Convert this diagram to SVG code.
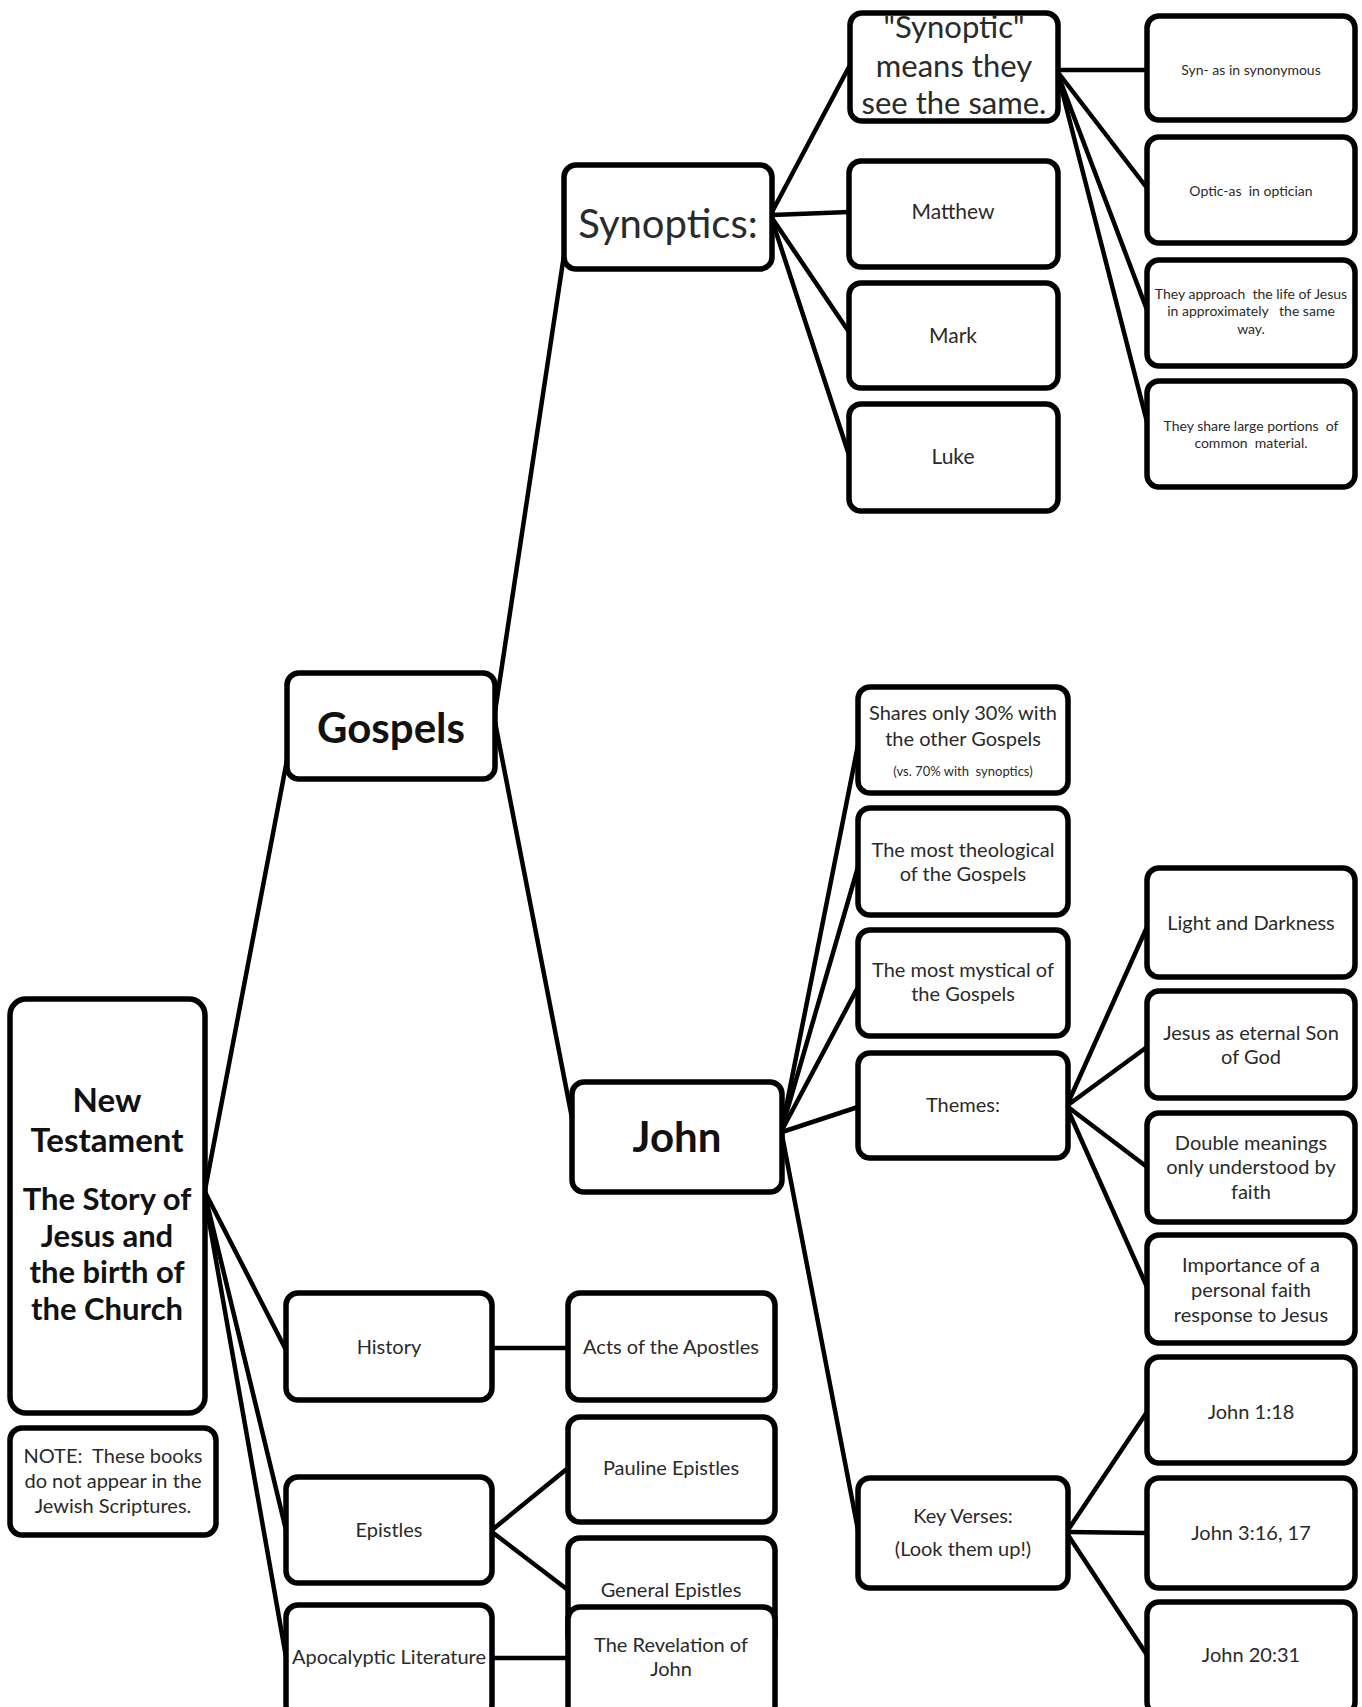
<svg xmlns="http://www.w3.org/2000/svg" width="1362" height="1707" viewBox="0 0 1362 1707">
<style>
.bx{fill:#fff;stroke:#000;stroke-width:5.5}
.ln{stroke:#000;stroke-width:4.5;fill:none;stroke-linecap:round}
text{font-family:Lato,"Open Sans","Liberation Sans",sans-serif;fill:#2a2a2a;text-anchor:middle}
.b{font-weight:bold;fill:#111}
.t21{font-size:21px}
.t20{font-size:20px}
.t13{font-size:14px}
</style>
<rect width="1362" height="1707" fill="#fff"/>
<g id="connectors">
<line class="ln" x1="205" y1="1190" x2="287" y2="760"/>
<line class="ln" x1="205" y1="1192" x2="286" y2="1350"/>
<line class="ln" x1="205" y1="1195" x2="286" y2="1530"/>
<line class="ln" x1="205" y1="1198" x2="286" y2="1657"/>
<line class="ln" x1="495" y1="712" x2="564" y2="255"/>
<line class="ln" x1="495" y1="722" x2="572" y2="1118"/>
<line class="ln" x1="772" y1="212" x2="850" y2="65"/>
<line class="ln" x1="772" y1="215" x2="849" y2="212"/>
<line class="ln" x1="772" y1="218" x2="849" y2="332"/>
<line class="ln" x1="772" y1="220" x2="849" y2="455"/>
<line class="ln" x1="1058" y1="70" x2="1147" y2="70"/>
<line class="ln" x1="1060" y1="75" x2="1147" y2="188"/>
<line class="ln" x1="1060" y1="80" x2="1147" y2="310"/>
<line class="ln" x1="1060" y1="83" x2="1147" y2="422"/>
<line class="ln" x1="782" y1="1128" x2="858" y2="745"/>
<line class="ln" x1="782" y1="1128" x2="858" y2="867"/>
<line class="ln" x1="782" y1="1130" x2="858" y2="987"/>
<line class="ln" x1="782" y1="1132" x2="858" y2="1107"/>
<line class="ln" x1="782" y1="1135" x2="858" y2="1530"/>
<line class="ln" x1="1068" y1="1103" x2="1147" y2="927"/>
<line class="ln" x1="1068" y1="1105" x2="1147" y2="1047"/>
<line class="ln" x1="1068" y1="1107" x2="1147" y2="1167"/>
<line class="ln" x1="1068" y1="1110" x2="1147" y2="1287"/>
<line class="ln" x1="1068" y1="1530" x2="1147" y2="1412"/>
<line class="ln" x1="1068" y1="1532" x2="1147" y2="1533"/>
<line class="ln" x1="1068" y1="1535" x2="1147" y2="1655"/>
<line class="ln" x1="492" y1="1348" x2="568" y2="1348"/>
<line class="ln" x1="492" y1="1530" x2="568" y2="1468"/>
<line class="ln" x1="492" y1="1532" x2="568" y2="1590"/>
<line class="ln" x1="492" y1="1658" x2="568" y2="1658"/>
</g>
<g id="nt">
<rect class="bx" x="10" y="999" width="195" height="414" rx="16"/>
<text class="b" font-size="31"><tspan x="107" y="1112" font-size="33">New</tspan><tspan x="107" y="1152" font-size="33">Testament</tspan><tspan x="107" y="1210">The Story of</tspan><tspan x="107" y="1247">Jesus and</tspan><tspan x="107" y="1283">the birth of</tspan><tspan x="107" y="1320">the Church</tspan></text>
</g>
<g id="note">
<rect class="bx" x="10" y="1428" width="206" height="107" rx="12"/>
<text class="t20" xml:space="preserve"><tspan x="113" y="1463">NOTE:  These books</tspan><tspan x="113" y="1488">do not appear in the</tspan><tspan x="113" y="1513">Jewish Scriptures.</tspan></text>
</g>
<g id="gospels">
<rect class="bx" x="287" y="673" width="208" height="106" rx="12"/>
<text class="b" x="391" y="743" font-size="42">Gospels</text>
</g>
<g id="history">
<rect class="bx" x="286" y="1293" width="206" height="107" rx="12"/>
<text class="t20" x="389" y="1354">History</text>
</g>
<g id="epistles">
<rect class="bx" x="286" y="1477" width="206" height="106" rx="12"/>
<text class="t20" x="389" y="1537">Epistles</text>
</g>
<g id="apocalyptic">
<rect class="bx" x="286" y="1605" width="206" height="112" rx="12"/>
<text class="t20" x="389" y="1664">Apocalyptic Literature</text>
</g>
<g id="synoptics">
<rect class="bx" x="564" y="165" width="208" height="104" rx="12"/>
<text x="668" y="238" font-size="40">Synoptics:</text>
</g>
<g id="john">
<rect class="bx" x="572" y="1082" width="210" height="110" rx="12"/>
<text class="b" x="677" y="1152" font-size="42">John</text>
</g>
<g id="acts">
<rect class="bx" x="568" y="1293" width="207" height="107" rx="12"/>
<text class="t20" x="671" y="1354">Acts of the Apostles</text>
</g>
<g id="pauline">
<rect class="bx" x="568" y="1417" width="207" height="105" rx="12"/>
<text class="t20" x="671" y="1475">Pauline Epistles</text>
</g>
<g id="general">
<rect class="bx" x="568" y="1538" width="207" height="110" rx="12"/>
<text class="t20" x="671" y="1597">General Epistles</text>
</g>
<g id="revelation">
<rect class="bx" x="568" y="1607" width="207" height="112" rx="12"/>
<text class="t20"><tspan x="671" y="1652">The Revelation of</tspan><tspan x="671" y="1676">John</tspan></text>
</g>
<g id="synoptic-def">
<rect class="bx" x="850" y="13" width="208" height="108" rx="12"/>
<text font-size="31"><tspan x="954" y="38">"Synoptic"</tspan><tspan x="954" y="77">means they</tspan><tspan x="954" y="114">see the same.</tspan></text>
</g>
<g id="matthew">
<rect class="bx" x="849" y="161" width="209" height="106" rx="12"/>
<text class="t21" x="953" y="219">Matthew</text>
</g>
<g id="mark">
<rect class="bx" x="849" y="283" width="209" height="105" rx="12"/>
<text class="t21" x="953" y="343">Mark</text>
</g>
<g id="luke">
<rect class="bx" x="849" y="404" width="209" height="107" rx="12"/>
<text class="t21" x="953" y="464">Luke</text>
</g>
<g id="syn">
<rect class="bx" x="1147" y="16" width="208" height="104" rx="12"/>
<text class="t13" x="1251" y="75">Syn- as in synonymous</text>
</g>
<g id="optic">
<rect class="bx" x="1147" y="137" width="208" height="106" rx="12"/>
<text class="t13" x="1251" y="196" xml:space="preserve">Optic-as  in optician</text>
</g>
<g id="approach">
<rect class="bx" x="1147" y="260" width="208" height="106" rx="12"/>
<text class="t13" xml:space="preserve"><tspan x="1251" y="299">They approach  the life of Jesus</tspan><tspan x="1251" y="316">in approximately   the same</tspan><tspan x="1251" y="334">way.</tspan></text>
</g>
<g id="share">
<rect class="bx" x="1147" y="381" width="208" height="106" rx="12"/>
<text class="t13" xml:space="preserve"><tspan x="1251" y="431">They share large portions  of</tspan><tspan x="1251" y="448">common  material.</tspan></text>
</g>
<g id="shares">
<rect class="bx" x="858" y="687" width="210" height="106" rx="12"/>
<text class="t20"><tspan x="963" y="720">Shares only 30% with</tspan><tspan x="963" y="746">the other Gospels</tspan></text>
<text x="963" y="776" font-size="13" xml:space="preserve">(vs. 70% with  synoptics)</text>
</g>
<g id="theological">
<rect class="bx" x="858" y="808" width="210" height="107" rx="12"/>
<text class="t20"><tspan x="963" y="857">The most theological</tspan><tspan x="963" y="881">of the Gospels</tspan></text>
</g>
<g id="mystical">
<rect class="bx" x="858" y="930" width="210" height="106" rx="12"/>
<text class="t20"><tspan x="963" y="977">The most mystical of</tspan><tspan x="963" y="1001">the Gospels</tspan></text>
</g>
<g id="themes">
<rect class="bx" x="858" y="1053" width="210" height="105" rx="12"/>
<text class="t20" x="963" y="1112">Themes:</text>
</g>
<g id="keyverses">
<rect class="bx" x="858" y="1478" width="210" height="110" rx="12"/>
<text class="t20"><tspan x="963" y="1523">Key Verses:</tspan><tspan x="963" y="1556">(Look them up!)</tspan></text>
</g>
<g id="light">
<rect class="bx" x="1147" y="868" width="208" height="109" rx="12"/>
<text class="t20" x="1251" y="930">Light and Darkness</text>
</g>
<g id="sonofgod">
<rect class="bx" x="1147" y="991" width="208" height="107" rx="12"/>
<text class="t20"><tspan x="1251" y="1040">Jesus as eternal Son</tspan><tspan x="1251" y="1064">of God</tspan></text>
</g>
<g id="double">
<rect class="bx" x="1147" y="1113" width="208" height="109" rx="12"/>
<text class="t20"><tspan x="1251" y="1150">Double meanings</tspan><tspan x="1251" y="1174">only understood by</tspan><tspan x="1251" y="1199">faith</tspan></text>
</g>
<g id="importance">
<rect class="bx" x="1147" y="1235" width="208" height="108" rx="12"/>
<text class="t20"><tspan x="1251" y="1272">Importance of a</tspan><tspan x="1251" y="1297">personal faith</tspan><tspan x="1251" y="1322">response to Jesus</tspan></text>
</g>
<g id="john118">
<rect class="bx" x="1147" y="1357" width="208" height="106" rx="12"/>
<text class="t20" x="1251" y="1419">John 1:18</text>
</g>
<g id="john316">
<rect class="bx" x="1147" y="1478" width="208" height="110" rx="12"/>
<text class="t20" x="1251" y="1540">John 3:16, 17</text>
</g>
<g id="john2031">
<rect class="bx" x="1147" y="1602" width="208" height="112" rx="12"/>
<text class="t20" x="1251" y="1662">John 20:31</text>
</g>
</svg>
